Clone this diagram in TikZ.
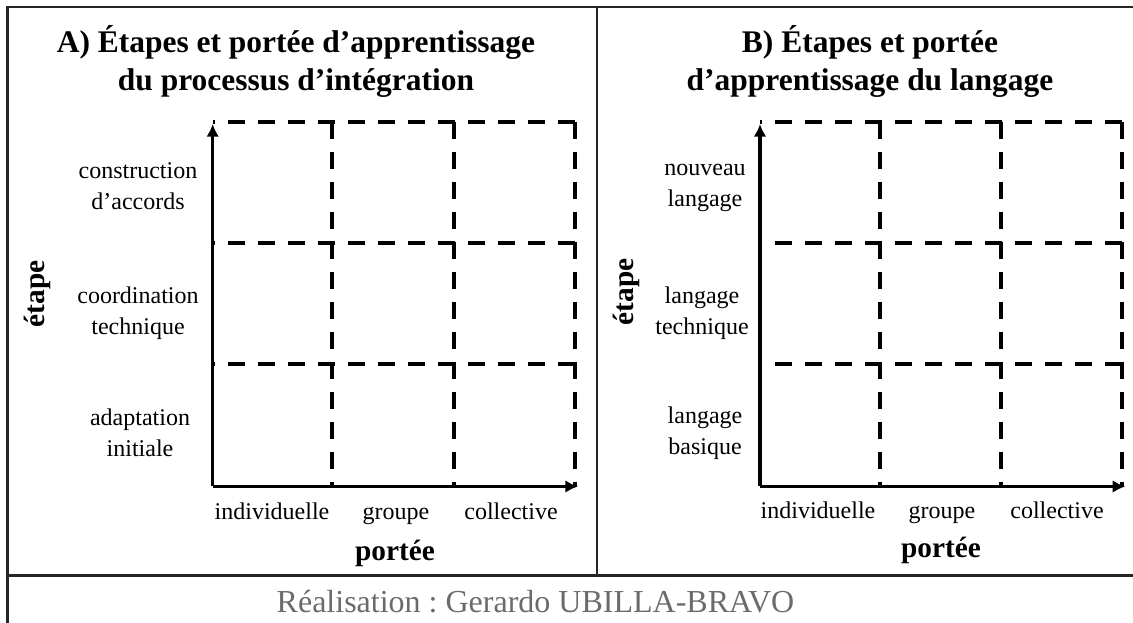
\documentclass[tikz,border=0pt]{standalone}
\usepackage{fontspec}
\setmainfont{Liberation Serif}
\usetikzlibrary{arrows.meta}
\frenchspacing

\begin{document}
\begin{tikzpicture}[x=0.75pt,y=-0.75pt]
        \tikzstyle{frame}=[draw=black!85,line width=1.6pt]
        \tikzstyle{grid line}=[line width=3pt,dash pattern=on 12.75pt off 9.75pt]
        \tikzstyle{axis}=[line width=2.4pt,-{Latex[length=9.5pt,width=9.5pt]}]
        \tikzstyle{title}=[font=\fontsize{23.6}{28.5}\selectfont\bfseries,align=center]
        \tikzstyle{level}=[font=\fontsize{18}{23.25}\selectfont,align=center]
        \tikzstyle{scope}=[font=\fontsize{18}{22}\selectfont,anchor=base]
        \tikzstyle{axis name}=[font=\fontsize{22}{26}\selectfont\bfseries]
        \useasboundingbox (0,0) rectangle (1133,623);
        \clip (0,0) rectangle (1133,623);
        % frame
        \draw[frame] (7.5,6.7) rectangle (1145,640);
        \draw[frame] (597,6.7) -- (597,575.5);
        \draw[frame] (7.5,575.5) -- (1145,575.5);
        % grids and axes
        \foreach \p / \ox in {A/0,B/547.3} {
            \coordinate (\p-o) at (212.7+\ox,486.5);
            \coordinate (\p-y) at (212.7+\ox,124);
            \coordinate (\p-x) at (578+\ox,486.5);
            \foreach \y in {121.7,243,364.5}
                \draw[grid line,dash phase=11.25pt] (212.7+\ox,\y) -- (577+\ox,\y);
            \foreach \x in {332.3,453.7,575}
                \draw[grid line] (\x+\ox,121.7) -- (\x+\ox,486.5);
            \draw[axis] (\p-o) -- (\p-y);
            \draw[axis] (\p-o) -- (\p-x);
        }
        % titles
        \node[title] (A-title) at (296,61) {A) Étapes et portée d’apprentissage\\du processus d’intégration};
        \node[title] (B-title) at (870,61) {B) Étapes et portée\\d’apprentissage du langage};
        % stages
        \node[level] (A-3) at (138,186.5) {construction\\d’accords};
        \node[level] (A-2) at (138,313) {coordination\\technique};
        \node[level] (A-1) at (140,433) {adaptation\\initiale};
        \node[level] (B-3) at (705,187.5) {nouveau\\langage};
        \node[level] (B-2) at (702,313) {langage\\technique};
        \node[level] (B-1) at (705,433) {langage\\basique};
        % scopes
        \foreach \p / \ox / \yb in {A/0/520,B/546/519} {
            \node[scope] (\p-ind) at (272+\ox,\yb) {individuelle};
            \node[scope] (\p-grp) at (396+\ox,\yb) {groupe};
            \node[scope] (\p-col) at (511+\ox,\yb) {collective};
        }
        \node[axis name,rotate=90] (A-etape) at (37,294) {étape};
        \node[axis name,rotate=90] (B-etape) at (626,292) {étape};
        \node[axis name,anchor=base] (A-portee) at (395,561) {portée};
        \node[axis name,anchor=base] (B-portee) at (941,558) {portée};
        % credit
        \node[font=\fontsize{24}{28}\selectfont,text=black!58] (credit) at (535.5,602) {Réalisation : Gerardo UBILLA-BRAVO};
    \end{tikzpicture}
\end{document}
